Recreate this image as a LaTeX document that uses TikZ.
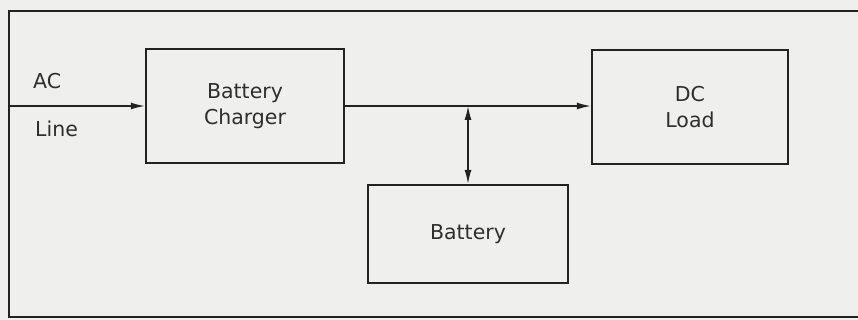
\documentclass[tikz,border=0pt]{standalone}
\usepackage{fontspec}
\setmainfont{DejaVu Sans}
\usetikzlibrary{arrows.meta}
\definecolor{paper}{HTML}{EFEFEE}
\definecolor{ink}{HTML}{222222}
\definecolor{txt}{HTML}{2E2E2E}
\begin{document}
\begin{tikzpicture}[x=1pt,y=-1pt,
  blk/.style={draw=ink,line width=2.2pt,fill=none,inner sep=0pt,text=txt,
    font=\fontsize{20.5}{26}\selectfont,align=center},
  lbl/.style={text=txt,font=\fontsize{20.5}{26}\selectfont,inner sep=0pt,anchor=base west},
  conn/.style={draw=ink,line width=1.5pt},
  tip/.style={-{Latex[length=14pt,width=7pt]}},
  dtip/.style={{Latex[length=14pt,width=7pt]}-{Latex[length=14pt,width=7pt]}}]
\useasboundingbox (0,0) rectangle (858,320);
\fill[paper] (0,0) rectangle (858,320);
\clip (0,0) rectangle (858,320);
\draw[ink,line width=1.5pt] (880,11) -- (9,11) -- (9,317) -- (880,317);
\node[blk,minimum width=198pt,minimum height=114pt] (chg) at (245,106) {Battery\\Charger};
\node[blk,minimum width=196pt,minimum height=114pt] (dc) at (690,107) {DC\\Load};
\node[blk,minimum width=200pt,minimum height=98pt] (bat) at (468,234) {Battery};
\coordinate (ac) at (9,106);
\node[lbl] (aclbl) at (33,89) {AC};
\node[lbl] (linelbl) at (35,137) {Line};
\coordinate (jn) at (468,106);
\draw[conn,tip] (ac) -- (chg.west);
\draw[conn,tip] (chg.east) -- (chg.east -| dc.west);
\draw[conn,dtip] (jn) -- (bat.north);
\end{tikzpicture}
\end{document}
